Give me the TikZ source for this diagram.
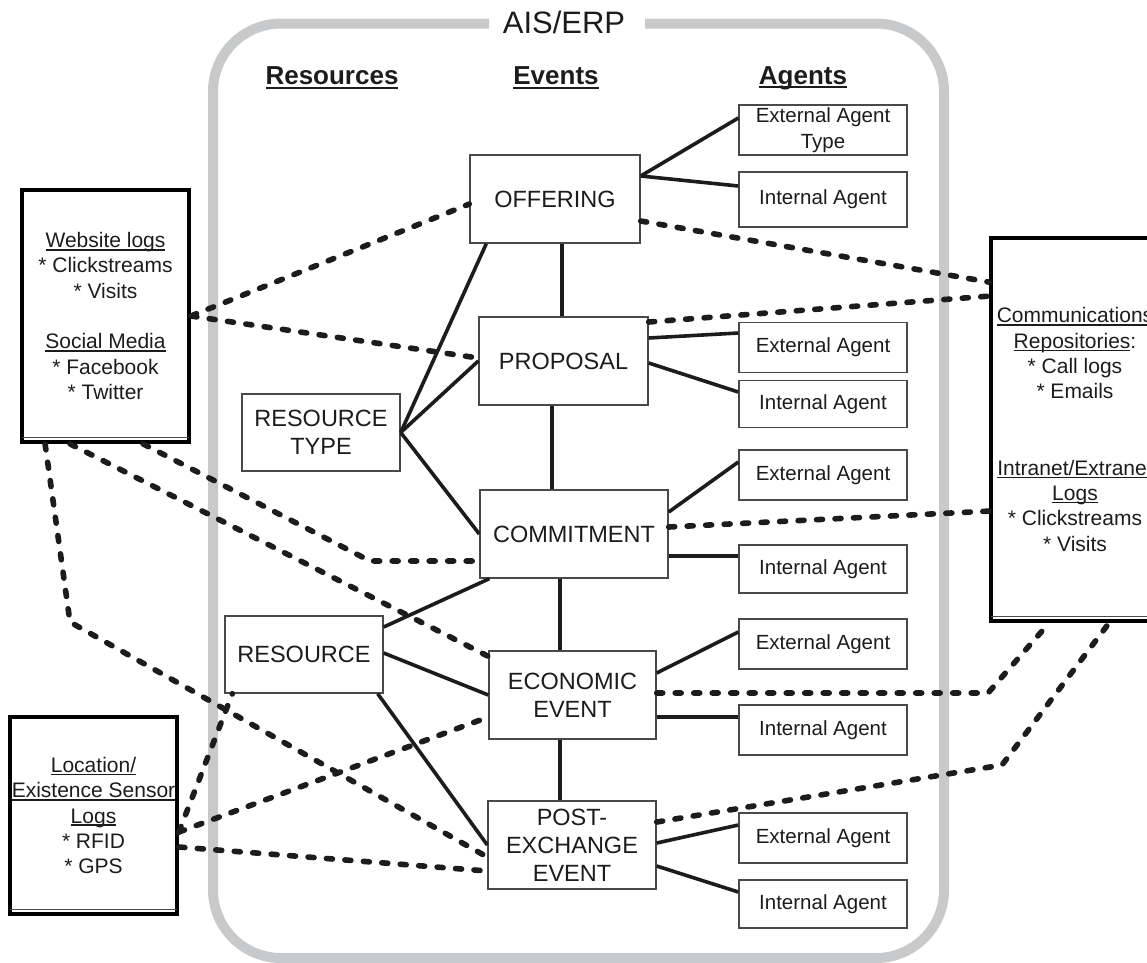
\documentclass[tikz,border=0pt]{standalone}
\usepackage{fontspec}
\setmainfont{Liberation Sans}
\usetikzlibrary{calc}
\definecolor{framegray}{RGB}{200,201,203}
\definecolor{ink}{RGB}{28,28,28}
% underlined text with a rule scaled to the current font
\newcommand{\ulbox}[1]{\setbox0=\hbox{#1}\makebox[0pt][l]{\rule[-0.14em]{\wd0}{0.075em}}\box0}
\newcommand{\ulboldbox}[1]{\setbox0=\hbox{#1}\makebox[0pt][l]{\rule[-0.15em]{\wd0}{0.09em}}\box0}
\begin{document}
\begin{tikzpicture}[x=1pt,y=-1pt,
  event/.style={draw=ink!80, line width=1.4pt, inner sep=0pt, align=center, text=ink,
    font=\fontsize{23.5}{28}\selectfont, minimum height=88pt},
  agent/.style={draw=ink!80, line width=1.4pt, inner sep=0pt, align=center, text=ink,
    font=\fontsize{20.5}{26}\selectfont, minimum width=168pt, minimum height=50pt},
  resbox/.style={draw=ink!80, line width=1.4pt, inner sep=0pt, align=center, text=ink,
    font=\fontsize{23.5}{28}\selectfont, minimum width=158pt, minimum height=77pt},
  source/.style={draw=black, line width=3.8pt, inner sep=0pt, align=center, text=ink,
    font=\fontsize{21}{25.3}\selectfont},
  heading/.style={font=\fontsize{26}{30}\selectfont\bfseries, text=ink},
  link/.style={draw=ink, line width=3.6pt},
  datalink/.style={draw=ink, line width=5.6pt, dash pattern=on 6pt off 12.5pt, line cap=round, line join=round},
]
\useasboundingbox (0,0) rectangle (1147,962);
\clip (0,0) rectangle (1147,962);

% system frame
\draw[framegray, line width=10pt, rounded corners=68pt]
  (489,23.5) -- (213,23.5) -- (213,958) -- (944,958) -- (944,23.5) -- (645,23.5);
\node[font=\fontsize{31}{36}\selectfont, text=ink] (title) at (564,22) {AIS/ERP};

% column headings
\node[heading] (hres) at (332,78) {\ulboldbox{Resources}};
\node[heading] (hev) at (556,78) {\ulboldbox{Events}};
\node[heading] (hag) at (803,78) {\ulboldbox{Agents}};

% events
\node[event, minimum width=170pt] (off) at (555,199) {OFFERING};
\node[event, minimum width=169pt] (prop) at (563.5,361) {PROPOSAL};
\node[event, minimum width=188pt] (com) at (574,534) {COMMITMENT};
\node[event, minimum width=167pt] (eco) at (572.5,695) {ECONOMIC\\EVENT};
\node[event, minimum width=168pt] (post) at (572,845) {POST-\\EXCHANGE\\EVENT};

% resources
\node[resbox] (rtype) at (321,432.5) {RESOURCE\\TYPE};
\node[resbox] (res) at (304,654.5) {RESOURCE};

% agents
\node[agent] (extT) at (823,130) {External Agent\\Type};
\node[agent, minimum height=55pt] (int1) at (823,199.5) {Internal Agent};
\node[agent] (ext2) at (823,347.5) {External Agent};
\node[agent, minimum height=47pt] (int2) at (823,404) {Internal Agent};
\node[agent] (ext3) at (823,475) {External Agent};
\node[agent, minimum height=48pt] (int3) at (823,569) {Internal Agent};
\node[agent] (ext4) at (823,644) {External Agent};
\node[agent] (int4) at (823,730) {Internal Agent};
\node[agent] (ext5) at (823,838) {External Agent};
\node[agent, minimum height=48pt] (int5) at (823,904) {Internal Agent};

% external data sources
\node[source, minimum width=167pt, minimum height=252pt] (web) at (105.5,316)
  {\ulbox{Website logs}\\ * Clickstreams\\ * Visits\\[25.3pt] \ulbox{Social Media}\\ * Facebook\\ * Twitter};
\node[source, minimum width=168pt, minimum height=383pt] (comm) at (1075,429.5)
  {\ulbox{Communications}\\ \ulbox{Repositories}:\\ * Call logs\\ * Emails\\[51pt]
   \ulbox{Intranet/Extranet}\\ \ulbox{Logs}\\ * Clickstreams\\ * Visits};
\node[source, minimum width=167pt, minimum height=197pt] (loc) at (93.5,815.5)
  {\ulbox{Location/}\\ \ulbox{Existence Sensor}\\ \ulbox{Logs}\\ * RFID\\ * GPS};
\foreach \b in {web,comm,loc}
  \draw[black!70, line width=1pt] ($(\b.south west)+(2,-6)$) -- ($(\b.south east)+(-2,-6)$);

% event chain
\draw[link] ($(off.south)+(7,0)$) -- ($(prop.north)+(-1.5,0)$);
\draw[link] ($(prop.south)+(-11.5,0)$) -- ($(com.north)+(-22,0)$);
\draw[link] ($(com.south)+(-14,0)$) -- ($(eco.north)+(-12.5,0)$);
\draw[link] ($(eco.south)+(-12.5,0)$) -- ($(post.north)+(-12,0)$);

% resource links
\draw[link] (rtype.east) -- ($(off.south west)+(17,0)$);
\draw[link] (rtype.east) -- (prop.west);
\draw[link] (rtype.east) -- (com.west);
\draw[link] ($(res.east)+(0,-27.5)$) -- ($(com.south west)+(10,0)$);
\draw[link] ($(res.east)+(0,-1.5)$) -- (eco.west);
\draw[link] ($(res.south east)+(-6,0)$) -- (post.west);

% agent links
\draw[link] ($(off.east)+(0,-23)$) -- ($(extT.west)+(0,-12)$);
\draw[link] ($(off.east)+(0,-23)$) -- ($(int1.west)+(0,-13.5)$);
\draw[link] ($(prop.east)+(0,-23)$) -- ($(ext2.west)+(0,-14.5)$);
\draw[link] ($(prop.east)+(0,2)$) -- ($(int2.west)+(0,-12)$);
\draw[link] ($(com.east)+(0,-22)$) -- ($(ext3.west)+(0,-13)$);
\draw[link] ($(com.east)+(0,22)$) -- ($(int3.west)+(0,-13)$);
\draw[link] ($(eco.east)+(0,-22)$) -- ($(ext4.west)+(0,-12)$);
\draw[link] ($(eco.east)+(0,22)$) -- ($(int4.west)+(0,-13)$);
\draw[link] ($(post.east)+(0,-2)$) -- ($(ext5.west)+(0,-13)$);
\draw[link] ($(post.east)+(0,21)$) -- ($(int5.west)+(0,-12)$);

% data feeds
\coordinate (wb1) at (70,622);
\coordinate (wc1) at (370,561);
\coordinate (eb1) at (988,693);
\coordinate (pb1) at (1002,765);
\draw[datalink] (web.east) -- ($(off.west)+(0,5)$);
\draw[datalink] (web.east) -- ($(prop.west)+(0,-3)$);
\draw[datalink] ($(web.south west)+(25,0)$) -- (wb1) -- ($(post.west)+(0,12)$);
\draw[datalink] ($(web.south west)+(50,0)$) -- ($(eco.north west)+(0,6)$);
\draw[datalink] ($(web.south west)+(123,0)$) -- (wc1) -- ($(com.west)+(0,27)$);
\draw[datalink] ($(loc.east)+(0,16.5)$) -- ($(res.south west)+(8,0)$);
\draw[datalink] ($(loc.east)+(0,16.5)$) -- ($(eco.west)+(0,22)$);
\draw[datalink] ($(loc.east)+(0,31.5)$) -- ($(post.west)+(0,26)$);
\draw[datalink] ($(off.east)+(0,22)$) -- ($(comm.north west)+(0,46)$);
\draw[datalink] ($(prop.east)+(0,-39)$) -- ($(comm.north west)+(0,60)$);
\draw[datalink] ($(com.east)+(0,-7)$) -- ($(comm.north west)+(0,275)$);
\draw[datalink] ($(eco.east)+(0,-2)$) -- (eb1) -- ($(comm.south west)+(60,0)$);
\draw[datalink] ($(post.east)+(0,-23)$) -- (pb1) -- ($(comm.south west)+(120,0)$);
\end{tikzpicture}
\end{document}
